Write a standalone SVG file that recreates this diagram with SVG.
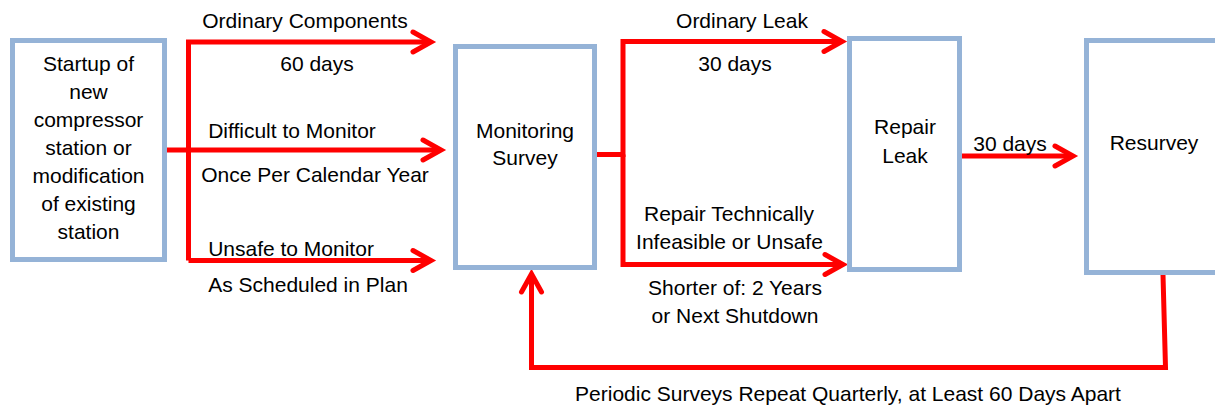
<svg xmlns="http://www.w3.org/2000/svg" width="1215" height="406" viewBox="0 0 1215 406">
<defs>
<style>
.box{fill:#ffffff;stroke:#95b3d7;stroke-width:5}
.t{font-family:"Liberation Sans",Arial,sans-serif;font-size:21px;fill:#000;text-anchor:middle}
.c{fill:none;stroke:#ff0000;stroke-width:5;stroke-linejoin:miter}
</style>
<marker id="ah" markerUnits="userSpaceOnUse" markerWidth="40" markerHeight="40" viewBox="-25 -20 30 40" refX="0" refY="0" orient="auto">
<path d="M-18,-10 L0,0 L-18,10" fill="none" stroke="#ff0000" stroke-width="5" stroke-linecap="round" stroke-linejoin="miter"/>
</marker>
</defs>
<rect width="1215" height="406" fill="#ffffff"/>
<g id="connectors">
<path class="c" d="M167,150 H441" marker-end="url(#ah)"/>
<path class="c" d="M188.5,260.5 V42 H431" marker-end="url(#ah)"/>
<path class="c" d="M188.5,260.5 H431" marker-end="url(#ah)"/>
<path class="c" d="M597,154.5 H623 V41.5 H842" marker-end="url(#ah)"/>
<path class="c" d="M623,154.5 V264.5 H843" marker-end="url(#ah)"/>
<path class="c" d="M962,156 H1073" marker-end="url(#ah)"/>
<path class="c" d="M1163,275 L1165.5,367.5 H531.5 V274" marker-end="url(#ah)"/>
<text class="t" x="305" y="28">Ordinary Components</text>
<text class="t" x="317" y="71">60 days</text>
<text class="t" x="292" y="138">Difficult to Monitor</text>
<text class="t" x="315" y="182">Once Per Calendar Year</text>
<text class="t" x="291" y="256">Unsafe to Monitor</text>
<text class="t" x="308" y="292">As Scheduled in Plan</text>
<text class="t" x="742" y="28">Ordinary Leak</text>
<text class="t" x="735" y="71">30 days</text>
<text class="t" x="729" y="221">Repair Technically</text>
<text class="t" x="729.5" y="249">Infeasible or Unsafe</text>
<text class="t" x="735" y="295">Shorter of: 2 Years</text>
<text class="t" x="735" y="323">or Next Shutdown</text>
<text class="t" x="1010" y="151">30 days</text>
<text class="t" x="848" y="401">Periodic Surveys Repeat Quarterly, at Least 60 Days Apart</text>
</g>
<g id="startup">
<rect class="box" x="12.5" y="40.5" width="152" height="219"/>
<text class="t" x="88.5" y="71">Startup of</text>
<text class="t" x="88.5" y="99">new</text>
<text class="t" x="88.5" y="127">compressor</text>
<text class="t" x="88.5" y="155">station or</text>
<text class="t" x="88.5" y="183">modification</text>
<text class="t" x="88.5" y="211">of existing</text>
<text class="t" x="88.5" y="239">station</text>
</g>
<g id="monitoring">
<rect class="box" x="455.5" y="46.5" width="139" height="221"/>
<text class="t" x="525" y="138">Monitoring</text>
<text class="t" x="525" y="165">Survey</text>
</g>
<g id="repair">
<rect class="box" x="849.5" y="38.5" width="110" height="231"/>
<text class="t" x="905" y="134">Repair</text>
<text class="t" x="905" y="163">Leak</text>
</g>
<g id="resurvey">
<rect class="box" x="1086.5" y="40.5" width="150" height="232"/>
<text class="t" x="1154" y="150">Resurvey</text>
</g>
</svg>
